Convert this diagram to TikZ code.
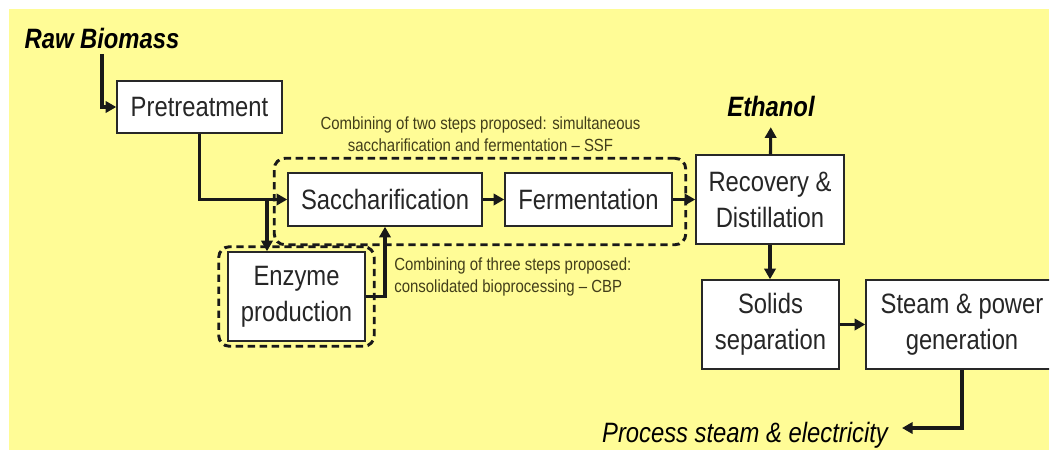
\documentclass[tikz,border=0pt]{standalone}
\usepackage{fontspec}
\setmainfont{Liberation Sans}[FakeStretch=0.85]
\usetikzlibrary{arrows.meta,fit}
\definecolor{slideyellow}{RGB}{255,252,150}
\definecolor{notetext}{RGB}{66,62,26}
\definecolor{boxline}{RGB}{40,40,40}

\begin{document}
\begin{tikzpicture}[x=0.75pt,y=-0.75pt,
		stage/.style={draw=boxline,line width=1.1pt,fill=white,align=center,text=black!85,
			font=\fontsize{21}{27}\selectfont,inner sep=0pt},
		product/.style={font=\fontsize{21}{27}\selectfont,inner sep=4pt},
		note/.style={text=notetext,font=\fontsize{13.2}{16.5}\selectfont,inner sep=0pt},
		flow/.style={line width=2.3pt,draw=black!90,-{Triangle[length=8pt,width=8.5pt]}},
		group/.style={draw=black!90,line width=2.2pt,dash pattern=on 5.5pt off 3.5pt,rounded corners=8pt}]
			\useasboundingbox (0,0) rectangle (1052,450);
			\fill[white] (0,0) rectangle (1052,450);
			\clip (0,0) rectangle (1049,450);
			\fill[slideyellow] (9,9) rectangle (1049,450);
			%process stages
			\node[stage,minimum width=123.75pt,minimum height=39pt] (pre) at (199.5,107) {Pretreatment};
			\node[stage,minimum width=145.5pt,minimum height=39.75pt] (sacch) at (385,199.5) {Saccharification};
			\node[stage,minimum width=125.25pt,minimum height=39.75pt] (ferm) at (588.5,199.5) {Fermentation};
			\node[stage,minimum width=102.75pt,minimum height=66.75pt] (enz) at (296.5,296.5) {Enzyme\\production};
			\node[stage,minimum width=111pt,minimum height=66.75pt] (rec) at (770,199.5) {Recovery \&\\Distillation};
			\node[stage,minimum width=102.75pt,minimum height=66.75pt] (solids) at (770.5,324.5) {Solids\\separation};
			\node[stage,minimum width=144pt,minimum height=66.75pt] (steam) at (962,324.5) {Steam \& power\\generation};
			%combined steps
			\node[group,fit=(sacch)(ferm),inner xsep=9.75pt,inner ysep=12pt,yshift=-1.5pt] (ssf) {};
			\node[group,fit=(enz),inner xsep=6.4pt,inner ysep=3.4pt] (cbp) {};
			\node[note,align=center] (ssfnote) at (480.5,134) {Combining of two steps proposed: simultaneous\\saccharification and fermentation -- SSF};
			\node[note,align=left,anchor=west] (cbpnote) at (394,277) {Combining of three steps proposed:\\consolidated bioprocessing -- CBP};
			%inputs and outputs
			\node[product,font=\fontsize{21}{27}\selectfont\bfseries\itshape] (raw) at (102,38) {Raw Biomass};
			\node[product,font=\fontsize{21}{27}\selectfont\bfseries\itshape,inner sep=8pt] (eth) at (771,106) {Ethanol};
			\node[product,font=\fontsize{21}{27}\selectfont\itshape] (out) at (745,435) {Process steam \& electricity};
			\coordinate (split) at (267,199.5);
			\coordinate (outin) at (902,428);
			%arrows
			\draw[flow] (raw.south) |- (pre.west);
			\draw[flow] (pre.south) |- (sacch.west);
			\draw[flow] (split) -- (split |- enz.north);
			\draw[flow] (enz.east) -| (sacch.south);
			\draw[flow] (sacch) -- (ferm);
			\draw[flow] (ferm) -- (rec);
			\draw[flow] (rec) -- (eth);
			\draw[flow] (rec) -- (rec |- solids.north);
			\draw[flow] (solids) -- (steam);
			\draw[flow] (steam.south) |- (outin);
		\end{tikzpicture}
\end{document}
